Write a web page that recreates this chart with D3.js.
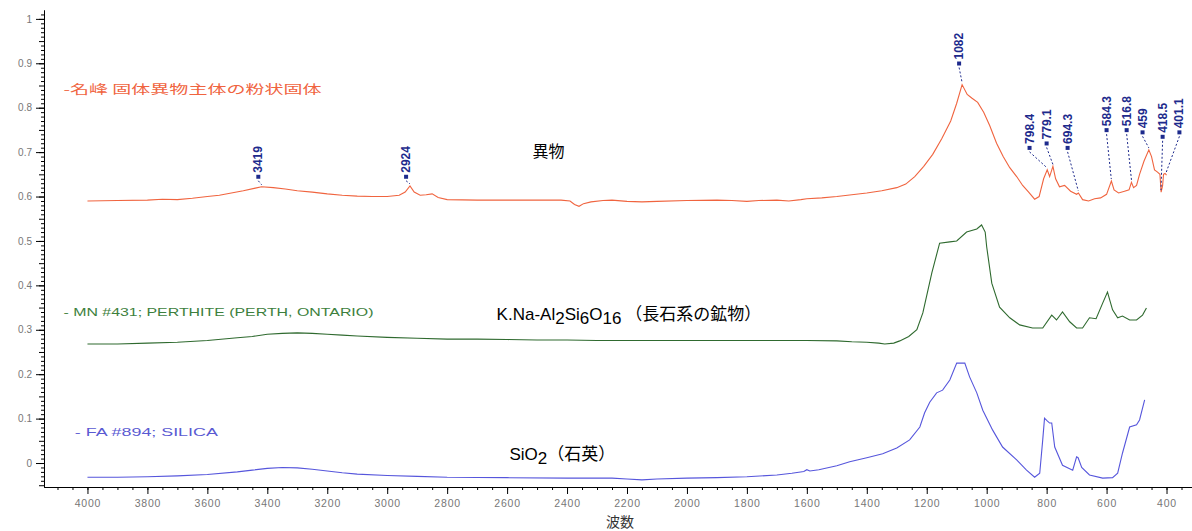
<!DOCTYPE html>
<html><head><meta charset="utf-8">
<script src="https://cdn.jsdelivr.net/npm/d3@7"></script>
<style>body{margin:0;background:#fff}svg{display:block;background:#fff}</style>
</head><body>
<svg id="c" width="1192" height="531"></svg>
<script>
// ---- data (wavenumber cm-1, absorbance) ----
const sampleSpectrum = [
[4000,0.590],[3900,0.591],[3800,0.592],[3750,0.594],[3700,0.593],[3650,0.596],[3600,0.600],[3560,0.603],[3520,0.608],[3480,0.613],[3440,0.619],[3419,0.622],[3380,0.620],[3340,0.617],[3300,0.613],[3250,0.610],[3200,0.606],[3150,0.603],[3100,0.601],[3050,0.600],[3000,0.600],[2960,0.603],[2940,0.610],[2924,0.624],[2910,0.610],[2890,0.603],[2870,0.604],[2850,0.606],[2830,0.598],[2800,0.593],[2700,0.592],[2600,0.592],[2500,0.592],[2420,0.592],[2390,0.590],[2375,0.582],[2360,0.578],[2345,0.584],[2320,0.588],[2280,0.591],[2250,0.592],[2200,0.589],[2150,0.588],[2100,0.589],[2000,0.591],[1900,0.592],[1850,0.591],[1800,0.589],[1760,0.591],[1700,0.592],[1660,0.590],[1620,0.593],[1600,0.595],[1550,0.597],[1500,0.600],[1450,0.604],[1400,0.608],[1350,0.613],[1300,0.620],[1270,0.628],[1240,0.645],[1210,0.668],[1180,0.695],[1150,0.730],[1120,0.770],[1100,0.810],[1082,0.852],[1065,0.830],[1050,0.822],[1030,0.812],[1010,0.790],[990,0.760],[967,0.720],[945,0.690],[923,0.665],[900,0.645],[880,0.625],[860,0.610],[840,0.594],[825,0.600],[810,0.640],[798,0.660],[790,0.645],[779,0.668],[770,0.640],[757,0.622],[740,0.625],[720,0.612],[700,0.605],[694,0.608],[680,0.593],[660,0.590],[640,0.595],[620,0.597],[600,0.605],[584,0.635],[575,0.615],[560,0.608],[540,0.612],[525,0.615],[517,0.632],[510,0.620],[500,0.625],[490,0.650],[475,0.680],[459,0.705],[450,0.690],[440,0.660],[430,0.655],[422,0.650],[418,0.610],[413,0.625],[410,0.650],[405,0.652],[400,0.648]
];
const perthiteSpectrum = [
[4000,0.268],[3900,0.268],[3800,0.270],[3700,0.272],[3600,0.276],[3500,0.282],[3450,0.285],[3400,0.290],[3350,0.292],[3300,0.293],[3250,0.292],[3200,0.290],[3150,0.288],[3100,0.286],[3000,0.283],[2900,0.281],[2800,0.279],[2700,0.279],[2600,0.278],[2500,0.277],[2400,0.277],[2300,0.276],[2200,0.276],[2000,0.276],[1800,0.276],[1600,0.276],[1500,0.275],[1450,0.273],[1400,0.272],[1360,0.270],[1340,0.268],[1310,0.270],[1290,0.275],[1260,0.285],[1233,0.300],[1213,0.338],[1183,0.428],[1157,0.495],[1123,0.498],[1100,0.500],[1067,0.520],[1033,0.527],[1017,0.536],[1005,0.520],[1000,0.487],[983,0.405],[957,0.351],[923,0.327],[890,0.311],[847,0.304],[813,0.304],[783,0.333],[767,0.322],[747,0.340],[723,0.318],[700,0.304],[680,0.304],[657,0.327],[635,0.325],[613,0.360],[597,0.385],[580,0.345],[563,0.327],[547,0.331],[523,0.322],[500,0.322],[480,0.333],[467,0.349]
];
const silicaSpectrum = [
[4000,-0.032],[3900,-0.032],[3800,-0.031],[3700,-0.029],[3600,-0.026],[3500,-0.020],[3450,-0.016],[3400,-0.012],[3350,-0.010],[3300,-0.011],[3250,-0.014],[3200,-0.018],[3150,-0.022],[3100,-0.025],[3000,-0.028],[2900,-0.030],[2800,-0.032],[2600,-0.033],[2400,-0.034],[2250,-0.034],[2200,-0.036],[2150,-0.038],[2100,-0.036],[2000,-0.034],[1900,-0.033],[1800,-0.031],[1700,-0.027],[1650,-0.023],[1610,-0.019],[1600,-0.015],[1590,-0.018],[1560,-0.015],[1500,-0.006],[1457,0.003],[1400,0.012],[1347,0.021],[1300,0.034],[1257,0.052],[1223,0.081],[1207,0.113],[1190,0.137],[1167,0.158],[1147,0.164],[1123,0.187],[1100,0.225],[1073,0.225],[1057,0.194],[1033,0.158],[1013,0.119],[980,0.074],[947,0.036],[900,0.007],[867,-0.016],[840,-0.032],[823,-0.023],[813,0.052],[807,0.101],[798,0.095],[790,0.090],[783,0.090],[773,0.036],[747,-0.005],[713,-0.016],[700,0.014],[695,0.012],[683,-0.010],[657,-0.027],[613,-0.034],[580,-0.033],[563,-0.023],[547,0.022],[523,0.081],[500,0.086],[490,0.097],[473,0.142]
];
const peakLabels = ["3419","2924","1082","798.4","779.1","694.3","584.3","516.8","459","418.5","401.1"];
const peakWave   = [3419,2924,1082,798.4,779.1,694.3,584.3,516.8,459,418.5,401.1];
const peakAbs    = [0.622,0.624,0.852,0.660,0.668,0.608,0.635,0.632,0.705,0.610,0.650];
const labelWave  = [3430,2937,1092,857,800,730,600,533,480,413,357];
const labelAbs   = [0.640,0.640,0.895,0.705,0.715,0.705,0.745,0.745,0.740,0.730,0.740];
const xMajorTicks = d3.range(4000, 399, -200);
const xMinorTicks = d3.range(4100, 349, -50);
const yMajorTicks = d3.range(0, 10.5, 1).map(d => d / 10);
const yMinorTicks = d3.range(-5, 102, 1).map(d => d / 100);

// ---- scales ----
const svg = d3.select("#c");
const x = d3.scaleLinear().domain([4145, 315]).range([44, 1192]);
const y = d3.scaleLinear().domain([-0.054, 1.02]).range([487, 10]);

const line = d3.line().x(d => x(d[0])).y(d => y(d[1]));
const series = [
  {data: sampleSpectrum, color: "#f0643f"},
  {data: perthiteSpectrum, color: "#2f6a2f"},
  {data: silicaSpectrum, color: "#5656dc"}
];
svg.append("g").selectAll("path").data(series).join("path")
  .attr("d", d => line(d.data)).attr("fill", "none")
  .attr("stroke", d => d.color).attr("stroke-width", 1.1);

// ---- axes ----
const axisFont = "'Liberation Sans', Arial, sans-serif";
svg.append("g").attr("transform", "translate(0,487)")
  .call(d3.axisBottom(x).tickValues(xMinorTicks).tickSize(3).tickSizeOuter(0).tickFormat(""));
const gx = svg.append("g").attr("transform", "translate(0,487)")
  .call(d3.axisBottom(x).tickValues(xMajorTicks).tickSize(7).tickSizeOuter(0).tickPadding(6).tickFormat(d3.format("d")));
gx.selectAll("text").attr("fill", "#777").style("font", "10.5px " + axisFont).attr("letter-spacing", "0.8px");
const gyMinor = svg.append("g").attr("transform", "translate(44,0)")
  .call(d3.axisLeft(y).tickValues(yMinorTicks).tickSizeOuter(0).tickFormat(""));
gyMinor.selectAll(".tick line").attr("x2", (d) => Math.round(d * 100) % 5 === 0 ? -5 : -3);
const gy = svg.append("g").attr("transform", "translate(44,0)")
  .call(d3.axisLeft(y).tickValues(yMajorTicks).tickSize(8).tickSizeOuter(0).tickPadding(4)
    .tickFormat(d => d === 0 ? "0" : d === 1 ? "1" : d3.format(".1f")(d)));
gy.selectAll("text").attr("fill", "#777").style("font", "10px " + axisFont);
svg.selectAll(".domain").attr("stroke", "#000");
svg.selectAll(".tick line").attr("stroke", "#000");

// ---- peak labels ----
const peaks = peakLabels.map((t, i) => ({t, w: peakWave[i], v: peakAbs[i], lw: labelWave[i], lv: labelAbs[i]}));
const pg = svg.append("g");
pg.selectAll("line").data(peaks).join("line")
  .attr("x1", d => x(d.lw)).attr("y1", d => y(d.lv) + 2)
  .attr("x2", d => x(d.w)).attr("y2", d => y(d.v) - 2)
  .attr("stroke", "#1d2a8c").attr("stroke-width", 1).attr("stroke-dasharray", "2,2");
pg.selectAll("rect").data(peaks).join("rect")
  .attr("x", d => x(d.lw) - 2).attr("y", d => y(d.lv) - 4).attr("width", 4).attr("height", 4)
  .attr("fill", "#1d2a8c");
pg.selectAll("text").data(peaks).join("text")
  .attr("transform", d => `translate(${x(d.lw)},${y(d.lv) - 6}) rotate(-90)`)
  .attr("dominant-baseline", "central")
  .attr("fill", "#1d2a8c").style("font", "bold 12px " + axisFont)
  .text(d => d.t);

// ---- annotations ----
const cjk = "'Noto Sans CJK JP', sans-serif";
svg.append("text").attr("x", x(4080)).attr("y", y(0.83))
  .attr("fill", "#f0643f").style("font", "12px " + cjk)
  .attr("textLength", 258).attr("lengthAdjust", "spacingAndGlyphs")
  .text("-名峰  固体異物主体の粉状固体");
svg.append("text").attr("x", x(2462)).attr("y", y(0.69)).attr("text-anchor", "middle")
  .attr("fill", "#000").style("font", "16px " + cjk).text("異物");
svg.append("text").attr("x", x(4080)).attr("y", y(0.331))
  .attr("fill", "#3d7f3d").style("font", "11px " + axisFont)
  .attr("textLength", 310).attr("lengthAdjust", "spacingAndGlyphs")
  .text("- MN #431; PERTHITE (PERTH, ONTARIO)");
const kt = svg.append("text").attr("x", x(2635)).attr("y", y(0.322))
  .attr("fill", "#000").style("font", "17px " + axisFont);
kt.append("tspan").text("K.Na-Al");
kt.append("tspan").attr("dy", 4).text("2");
kt.append("tspan").attr("dy", -4).text("Si");
kt.append("tspan").attr("dy", 4).text("6");
kt.append("tspan").attr("dy", -4).text("O");
kt.append("tspan").attr("dy", 4).text("16");
kt.append("tspan").attr("dy", -4).style("font", "17px " + cjk).text("  （長石系の鉱物）");
svg.append("text").attr("x", x(4042)).attr("y", y(0.061))
  .attr("fill", "#5a5ad2").style("font", "11px " + axisFont)
  .attr("textLength", 143).attr("lengthAdjust", "spacingAndGlyphs")
  .text("- FA #894; SILICA");
const st = svg.append("text").attr("x", x(2592)).attr("y", y(0.007))
  .attr("fill", "#000").style("font", "17px " + axisFont);
st.append("tspan").text("SiO");
st.append("tspan").attr("dy", 4).text("2");
st.append("tspan").attr("dy", -4).style("font", "17px " + cjk).text("（石英）");
svg.append("text").attr("x", 620).attr("y", 527).attr("text-anchor", "middle")
  .attr("fill", "#333").style("font", "14px " + cjk).text("波数");
</script>
</body></html>
